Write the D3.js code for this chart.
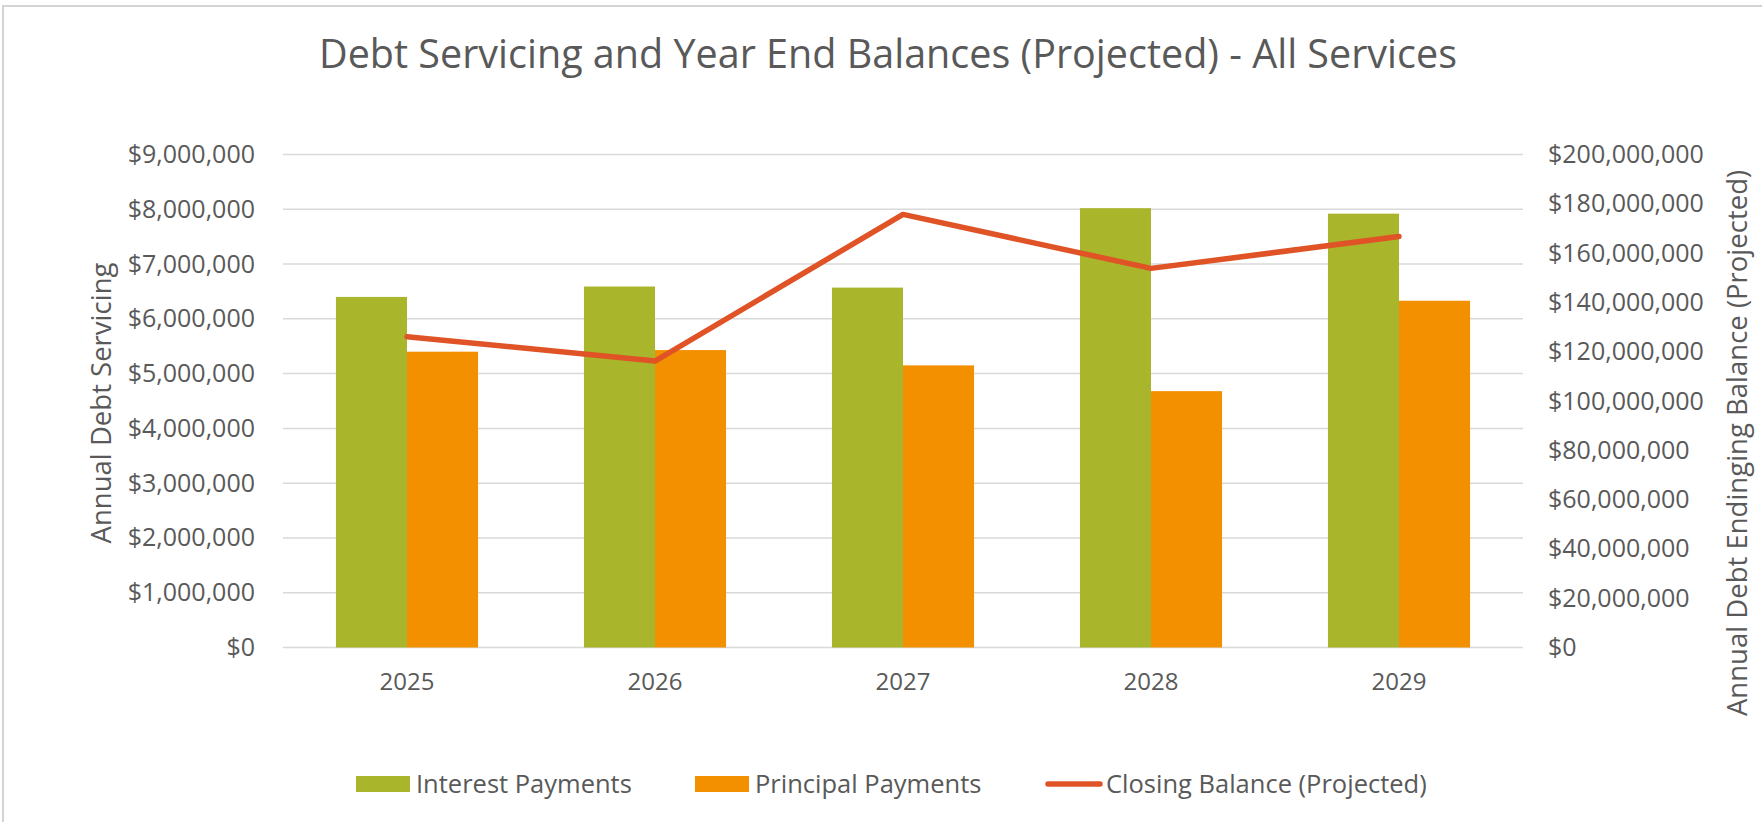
<!DOCTYPE html>
<html>
<head>
<meta charset="utf-8">
<script src="https://cdn.jsdelivr.net/npm/d3@7"></script>
<style>
  html, body { margin: 0; padding: 0; background: #fff; }
  svg text { font-family: "Open Sans", "Noto Sans", sans-serif; fill: #595959; }
</style>
</head>
<body>
<div id="chart"></div>
<script>
// chart data
const years = ['2025', '2026', '2027', '2028', '2029'];
const interestPayments = [6400000, 6590000, 6570000, 8020000, 7920000];
const principalPayments = [5400000, 5430000, 5150000, 4680000, 6330000];
const closingBalance = [126100000, 116200000, 175700000, 153800000, 166700000];

const seriesNames = ['Interest Payments', 'Principal Payments'];
const lineName = 'Closing Balance (Projected)';
const leftTicks = d3.range(0, 9000001, 1000000);
const rightTicks = d3.range(0, 200000001, 20000000);

const width = 1762;
const height = 822;
const colors = { interest: '#a9b52a', principal: '#f39000', line: '#e05326', grid: '#d9d9d9' };

// plot area
const margin = { left: 283, right: 1523, top: 154.5, bottom: 647.5 };

const svg = d3.select('#chart').append('svg').attr('width', width).attr('height', height);

// chart frame (only top + left visible in the picture)
svg.append('rect')
  .attr('x', 3).attr('y', 6)
  .attr('width', width + 10).attr('height', height + 10)
  .attr('fill', 'none').attr('stroke', '#d4d4d4').attr('stroke-width', 2);

const x = d3.scaleBand().domain(years).range([margin.left, margin.right])
  .paddingInner(0.427).paddingOuter(0.2135);
const xSub = d3.scaleBand().domain(seriesNames).range([0, x.bandwidth()]);
const yLeft = d3.scaleLinear().domain([0, 9000000]).range([margin.bottom, margin.top]);
const yRight = d3.scaleLinear().domain([0, 200000000]).range([margin.bottom, margin.top]);

const fmt = (v) => '$' + d3.format(',')(v);

// gridlines
svg.append('g')
  .selectAll('line')
  .data(leftTicks)
  .enter()
  .append('line')
  .attr('x1', margin.left).attr('x2', margin.right)
  .attr('y1', (d) => yLeft(d)).attr('y2', (d) => yLeft(d))
  .attr('stroke', colors.grid).attr('stroke-width', 1.5);

// left axis labels
const leftAxis = svg.append('g')
  .attr('transform', `translate(${margin.left - 28},0)`)
  .call(d3.axisLeft(yLeft).tickValues(leftTicks).tickFormat(fmt).tickSize(0).tickPadding(0));
leftAxis.select('.domain').remove();
leftAxis.selectAll('text').attr('font-size', 25).style('font-family', null);

// right axis labels
const rightAxis = svg.append('g')
  .attr('transform', `translate(${margin.right + 25},0)`)
  .call(d3.axisRight(yRight).tickValues(rightTicks).tickFormat(fmt).tickSize(0).tickPadding(0));
rightAxis.select('.domain').remove();
rightAxis.selectAll('text').attr('font-size', 25).style('font-family', null);

// x axis labels
const bottomAxis = svg.append('g')
  .attr('transform', `translate(0,${margin.bottom})`)
  .call(d3.axisBottom(x).tickSize(0).tickPadding(25));
bottomAxis.select('.domain').remove();
bottomAxis.selectAll('text').attr('font-size', 24).style('font-family', null);

// bars
const barData = years.map((year, i) => ({
  year,
  values: [
    { key: seriesNames[0], value: interestPayments[i], color: colors.interest },
    { key: seriesNames[1], value: principalPayments[i], color: colors.principal },
  ],
}));

svg.append('g')
  .selectAll('g')
  .data(barData)
  .enter()
  .append('g')
  .attr('transform', (d) => `translate(${x(d.year)},0)`)
  .selectAll('rect')
  .data((d) => d.values)
  .enter()
  .append('rect')
  .attr('x', (d) => xSub(d.key))
  .attr('width', xSub.bandwidth())
  .attr('y', (d) => yLeft(d.value))
  .attr('height', (d) => yLeft(0) - yLeft(d.value))
  .attr('fill', (d) => d.color);

// closing balance line on the right axis
const line = d3.line()
  .x((d, i) => x(years[i]) + x.bandwidth() / 2)
  .y((d) => yRight(d));

svg.append('path')
  .datum(closingBalance)
  .attr('d', line)
  .attr('fill', 'none')
  .attr('stroke', colors.line)
  .attr('stroke-width', 5.5)
  .attr('stroke-linejoin', 'round')
  .attr('stroke-linecap', 'round');

// titles
svg.append('text')
  .attr('x', 888).attr('y', 68)
  .attr('text-anchor', 'middle')
  .attr('font-size', 39.5)
  .text('Debt Servicing and Year End Balances (Projected) - All Services');

svg.append('text')
  .attr('transform', 'translate(111,403) rotate(-90)')
  .attr('text-anchor', 'middle')
  .attr('font-size', 27.5)
  .text('Annual Debt Servicing');

svg.append('text')
  .attr('transform', 'translate(1747,443) rotate(-90)')
  .attr('text-anchor', 'middle')
  .attr('font-size', 27.5)
  .text('Annual Debt Endinging Balance (Projected)');

// legend
const legendItems = [
  { name: seriesNames[0], color: colors.interest, type: 'box', x: 356 },
  { name: seriesNames[1], color: colors.principal, type: 'box', x: 695 },
  { name: lineName, color: colors.line, type: 'line', x: 1046 },
];

const legend = svg.append('g').attr('transform', 'translate(0,784)');
const item = legend.selectAll('g')
  .data(legendItems)
  .enter()
  .append('g')
  .attr('transform', (d) => `translate(${d.x},0)`);

item.filter((d) => d.type === 'box')
  .append('rect')
  .attr('x', 0).attr('y', -8)
  .attr('width', 54).attr('height', 16)
  .attr('fill', (d) => d.color);

item.filter((d) => d.type === 'line')
  .append('line')
  .attr('x1', 2).attr('x2', 54)
  .attr('y1', 0).attr('y2', 0)
  .attr('stroke', (d) => d.color)
  .attr('stroke-width', 5.5)
  .attr('stroke-linecap', 'round');

item.append('text')
  .attr('x', 60)
  .attr('dy', '0.35em')
  .attr('font-size', 25.5)
  .text((d) => d.name);
</script>
</body>
</html>
